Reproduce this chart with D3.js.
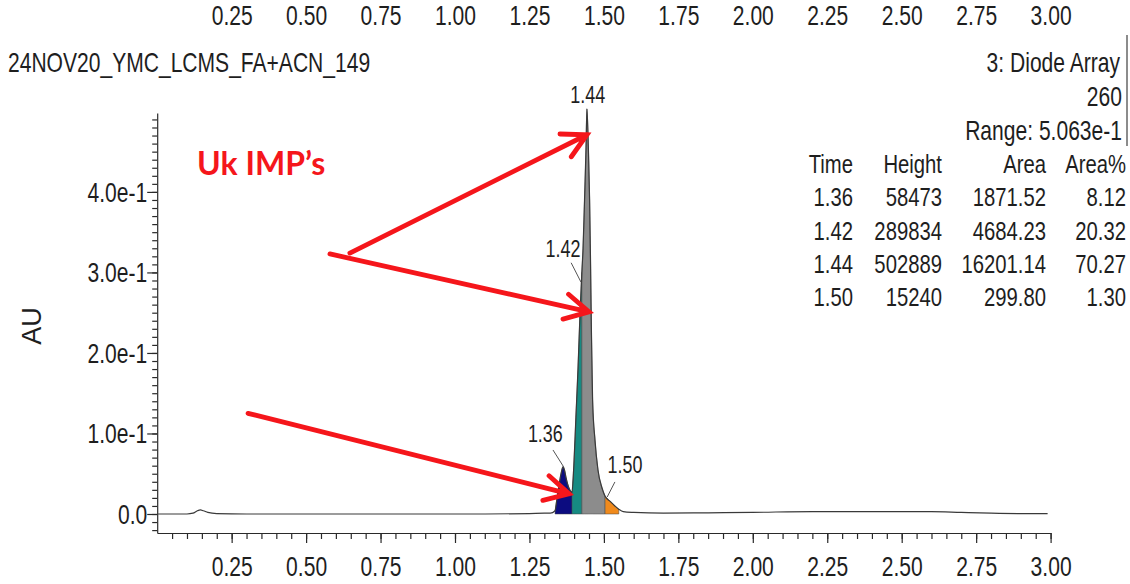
<!DOCTYPE html>
<html>
<head>
<meta charset="utf-8">
<style>
body { margin: 0; background: #fff; }
svg { display: block; }
text {
  font-family: "Liberation Sans", Arial, sans-serif;
  fill: #1e1e1e;
}
.axis path, .axis line { stroke: #2a2a2a; stroke-width: 1.2px; }
.trace { fill: none; stroke: #3a3a3a; stroke-width: 1.2px; }
.arrow { stroke: #f5161b; stroke-width: 4.8px; fill: none; stroke-linecap: round; }
.leader { stroke: #555; stroke-width: 1px; }
</style>
</head>
<body>
<script src="https://cdnjs.cloudflare.com/ajax/libs/d3/7.8.5/d3.min.js"></script>
<script>
// chromatogram trace (time in min, absorbance in AU)
var traceTime = [0.003, 0.10, 0.12, 0.135, 0.145, 0.155, 0.17, 0.20, 0.30, 0.60, 0.90, 1.10, 1.25, 1.30,
  1.320, 1.336, 1.342, 1.349, 1.356, 1.363, 1.368, 1.373, 1.383, 1.393, 1.399, 1.406, 1.413, 1.420,
  1.426, 1.430, 1.435, 1.440, 1.443, 1.448, 1.452, 1.455, 1.458, 1.462, 1.470, 1.480, 1.494, 1.504,
  1.520, 1.537, 1.550, 1.565, 1.60, 1.70, 1.85, 2.00, 2.20, 2.40, 2.60, 2.70, 2.80, 2.90, 2.99];
var traceAU = [0, 0, 0.001, 0.004, 0.005, 0.004, 0.002, 0.0005, 0, 0, 0, 0, 0.0005, 0.001,
  0.001, 0.004, 0.018, 0.035, 0.050, 0.059, 0.054, 0.045, 0.032, 0.027, 0.060, 0.120, 0.180, 0.250,
  0.300, 0.330, 0.390, 0.455, 0.503, 0.452, 0.390, 0.316, 0.229, 0.142, 0.092, 0.055, 0.032, 0.022,
  0.016, 0.010, 0.006, 0.003, 0.002, 0.001, 0.0015, 0.002, 0.003, 0.003, 0.003, 0.002, 0.001, 0.0005, 0.0005];

// integrated peaks
var peakTimes = ["1.36", "1.42", "1.44", "1.50"];
var peakHeights = ["58473", "289834", "502889", "15240"];
var peakAreas = ["1871.52", "4684.23", "16201.14", "299.80"];
var peakAreaPct = ["8.12", "20.32", "70.27", "1.30"];
var peakStart = [1.336, 1.393, 1.426, 1.504];
var peakEnd = [1.393, 1.426, 1.504, 1.550];
var peakColors = ["#0c0c80", "#168a82", "#8c8c8c", "#f08a1c"];

// axis ticks
var xTicks = [0.25, 0.50, 0.75, 1.00, 1.25, 1.50, 1.75, 2.00, 2.25, 2.50, 2.75, 3.00];
var yTicks = [0, 0.1, 0.2, 0.3, 0.4];
var yTickLabels = ["0.0", "1.0e-1", "2.0e-1", "3.0e-1", "4.0e-1"];

var SX = 0.78; // squeeze Arial metrics into a narrow face

var W = 1130, H = 584;
var svg = d3.select("body").append("svg").attr("width", W).attr("height", H);

var x = d3.scaleLinear().domain([0, 3]).range([157.2, 1050.6]);
var y = d3.scaleLinear().domain([-0.0236, 0.498]).range([533, 113]);

function squeeze(px, py) {
  return "translate(" + px + "," + py + ") scale(" + SX + ",1)";
}

function txt(g, str, px, py, size, anchor) {
  return g.append("text")
    .attr("transform", squeeze(px, py))
    .attr("text-anchor", anchor || "start")
    .style("font-size", size + "px")
    .text(str);
}

function fixAxisText(ax, dx, dy, size) {
  ax.selectAll("text").attr("x", null).attr("y", null).attr("dy", null)
    .attr("transform", squeeze(dx, dy))
    .style("font-size", size + "px").style("fill", "#1e1e1e");
  ax.attr("font-family", null).attr("font-size", null);
}

// labels of the panel above (cropped in the source)
var topAx = svg.append("g").attr("class", "axis")
  .call(d3.axisBottom(x).tickValues(xTicks).tickSize(0).tickFormat(d3.format(".2f")));
topAx.select(".domain").remove();
fixAxisText(topAx, 0, 25, 27);

// header
txt(svg, "24NOV20_YMC_LCMS_FA+ACN_149", 8, 72, 27);
txt(svg, "3: Diode Array", 1120, 72, 27, "end");
txt(svg, "260", 1122, 106, 27, "end");
txt(svg, "Range: 5.063e-1", 1122, 140, 27, "end");
svg.append("line").attr("x1", 1127).attr("x2", 1127).attr("y1", 35).attr("y2", 146)
  .attr("stroke", "#666").attr("stroke-width", 1.5);

// peak table
var colX = [853, 942, 1046, 1126];
var heads = ["Time", "Height", "Area", "Area%"];
heads.forEach(function(h, i) { txt(svg, h, colX[i], 173, 26, "end"); });
var rowY = [206, 240, 273, 306];
peakTimes.forEach(function(t, r) {
  [t, peakHeights[r], peakAreas[r], peakAreaPct[r]].forEach(function(v, i) {
    txt(svg, v, colX[i], rowY[r], 26, "end");
  });
});

// peak fills
var area = d3.area().x(function(d) { return x(d[0]); })
  .y0(y(0)).y1(function(d) { return y(d[1]); })
  .curve(d3.curveMonotoneX);
var pts = traceTime.map(function(t, i) { return [t, traceAU[i]]; });
peakStart.forEach(function(s, i) {
  var seg = pts.filter(function(p) { return p[0] >= s - 1e-9 && p[0] <= peakEnd[i] + 1e-9; });
  svg.append("path").attr("d", area(seg)).attr("fill", peakColors[i])
    .attr("stroke", "#444").attr("stroke-width", 0.5);
});

// trace
var line = d3.line().x(function(d) { return x(d[0]); }).y(function(d) { return y(d[1]); })
  .curve(d3.curveMonotoneX);
svg.append("path").attr("class", "trace").attr("d", line(pts));

// axes
var xMinor = svg.append("g").attr("class", "axis").attr("transform", "translate(0,533)")
  .call(d3.axisBottom(x).tickValues(d3.range(1, 61).map(function(i) { return i * 0.05; }))
    .tickSize(6).tickFormat(""));
xMinor.select(".domain").remove();
var xAx = svg.append("g").attr("class", "axis").attr("transform", "translate(0,533)")
  .call(d3.axisBottom(x).tickValues(xTicks).tickSize(10).tickSizeOuter(0)
    .tickFormat(d3.format(".2f")));
fixAxisText(xAx, 0, 43, 27);

var yMinor = svg.append("g").attr("class", "axis").attr("transform", "translate(157.2,0)")
  .call(d3.axisLeft(y).tickValues(d3.range(-2, 50).map(function(i) { return i / 100; }))
    .tickSize(5).tickFormat(""));
yMinor.select(".domain").remove();
var yAx = svg.append("g").attr("class", "axis").attr("transform", "translate(157.2,0)")
  .call(d3.axisLeft(y).tickValues(yTicks).tickSize(10).tickSizeOuter(0)
    .tickFormat(function(d, i) { return yTickLabels[i]; }));
fixAxisText(yAx, -10, 9.5, 27);

svg.append("text").attr("transform", "translate(41,326) rotate(-90)")
  .attr("text-anchor", "middle").style("font-size", "27px")
  .text("AU");

// peak labels with leader lines (data coords)
var pLabels = [
  { s: "1.44", t: 1.446, v: 0.510, a: "middle" },
  { s: "1.42", t: 1.421, v: 0.319, a: "end", l: [1.390, 0.312, 1.423, 0.288] },
  { s: "1.36", t: 1.362, v: 0.090, a: "end", l: [1.329, 0.0795, 1.363, 0.0596] },
  { s: "1.50", t: 1.512, v: 0.051, a: "start", l: [1.537, 0.0398, 1.511, 0.0211] }
];
pLabels.forEach(function(p) {
  txt(svg, p.s, x(p.t), y(p.v), 23, p.a);
  if (p.l) svg.append("line").attr("class", "leader")
    .attr("x1", x(p.l[0])).attr("y1", y(p.l[1])).attr("x2", x(p.l[2])).attr("y2", y(p.l[3]));
});

// annotation arrows (data coords)
var arrows = [
  [0.647, 0.324, 1.443, 0.471],
  [0.580, 0.323, 1.450, 0.251],
  [0.305, 0.125, 1.383, 0.025]
];
arrows.forEach(function(a) {
  var x1 = x(a[0]), y1 = y(a[1]), x2 = x(a[2]), y2 = y(a[3]);
  var ang = Math.atan2(y1 - y2, x1 - x2), len = 27, spread = 0.49;
  var d = "M" + x1 + "," + y1 + "L" + x2 + "," + y2 +
    "M" + (x2 + len * Math.cos(ang + spread)) + "," + (y2 + len * Math.sin(ang + spread)) +
    "L" + x2 + "," + y2 +
    "L" + (x2 + len * Math.cos(ang - spread)) + "," + (y2 + len * Math.sin(ang - spread));
  svg.append("path").attr("class", "arrow").attr("d", d);
});

svg.append("text").attr("x", x(0.134)).attr("y", y(0.421))
  .style("font-family", "Lato, 'Open Sans', sans-serif").style("font-weight", "bold")
  .style("font-size", "32px").style("fill", "#f5161b")
  .text("Uk IMP\u2019s");
</script>
</body>
</html>
